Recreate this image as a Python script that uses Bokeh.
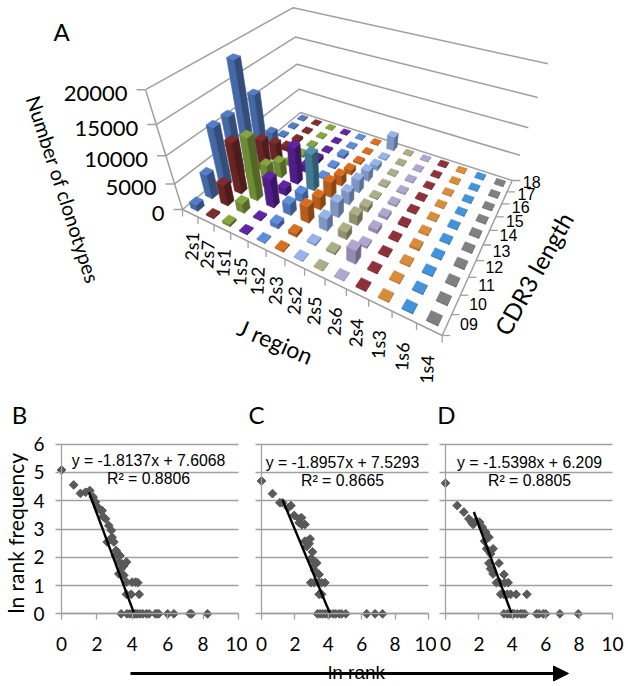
from bokeh.plotting import figure
from bokeh.layouts import column, row
from bokeh.models import Range1d, Label, FixedTicker, Arrow, NormalHead
from bokeh.core.properties import value
from bokeh.embed import file_html
from bokeh.resources import INLINE
import numpy as np

# ---------- data ----------
J_REGIONS = ["2s1","2s7","1s1","1s5","1s2","2s3","2s2","2s5","2s6","2s4","1s3","1s6","1s4"]
CDR3 = ["09","10","11","12","13","14","15","16","17","18"]
Z_TICKS = [0, 5000, 10000, 15000, 20000]
COUNT_2s1 = [1200, 4600, 11000, 11000, 18500, 11500, 2800, 300, 300, 200]
COUNT_2s7 = [300, 4000, 9500, 3000, 6000, 3500, 1000, 500, 300, 150]
COUNT_1s1 = [500, 1900, 11500, 4500, 3000, 1200, 500, 300, 200, 150]
COUNT_1s5 = [200, 300, 5500, 1500, 7000, 1500, 800, 300, 200, 150]
COUNT_1s2 = [200, 1000, 2200, 1800, 7000, 400, 400, 700, 300, 150]
COUNT_2s3 = [300, 700, 3200, 2500, 3000, 2000, 1000, 400, 200, 200]
COUNT_2s2 = [200, 400, 2500, 3000, 2500, 2500, 2000, 1000, 300, 2800]
COUNT_2s5 = [150, 500, 1500, 2000, 1000, 300, 300, 200, 200, 150]
COUNT_2s6 = [200, 2800, 400, 800, 600, 400, 300, 250, 200, 150]
COUNT_2s4 = [300, 300, 300, 300, 400, 300, 250, 200, 200, 200]
COUNT_1s3 = [300, 300, 300, 500, 300, 250, 200, 200, 200, 150]
COUNT_1s6 = [300, 300, 300, 300, 300, 250, 200, 200, 200, 150]
COUNT_1s4 = [300, 300, 300, 300, 250, 250, 200, 200, 200, 150]
COUNTS = [COUNT_2s1, COUNT_2s7, COUNT_1s1, COUNT_1s5, COUNT_1s2, COUNT_2s3, COUNT_2s2,
          COUNT_2s5, COUNT_2s6, COUNT_2s4, COUNT_1s3, COUNT_1s6, COUNT_1s4]
COLORS = ["#4f77bd","#7a2a2a","#7f9e3c","#5c229c","#5a86d2","#d0691f","#8facdf",
          "#a3a680","#a89fc6","#8a2f38","#cf8638","#3f8ccf","#7a7a7a"]
TEAL = "#4a8aa8"

B_X = [0,.69,1.07,1.36,1.6,1.79,1.92,2.05,2.17,2.3,2.35,2.49,2.67,2.82,2.86,2.58,2.96,2.77,3.09,3.18,3.3,3.05,3.24,3.43,3.67,3.37,3.52,3.24,3.52,3.67,3.99,4.18,4.31,3.67,3.94,4.39,
       3.37,3.7,3.85,4.0,4.1,4.2,4.3,4.45,4.6,4.8,4.95,5.3,5.4,5.5,6.0,6.35,7.25,7.35,8.25]
B_Y = [5.09,4.56,4.26,4.3,4.36,4.13,3.95,3.77,3.68,3.65,3.44,3.36,3.12,2.95,2.71,2.54,2.54,2.65,2.24,2.12,2.06,2.06,1.83,1.77,1.83,1.59,1.7,1.41,1.36,1.12,1.12,1.12,1.1,.69,.69,.69]+[0]*19
B_TREND_X = [1.55, 4.08]
B_TREND_Y = [4.3, 0.05]
C_X = [0,.66,1.1,1.26,1.76,1.6,1.96,2.25,2.4,2.25,2.42,2.6,2.91,2.8,2.6,2.85,2.71,3.05,2.95,3.11,3.31,3.15,3.19,3.45,2.95,3.15,3.4,3.6,3.8,3.45,3.6,
       3.35,3.5,3.65,3.8,3.95,4.1,4.3,4.45,4.65,4.8,5.05,6.3,6.8,7.25]
C_Y = [4.7,4.25,3.93,3.93,3.83,3.75,3.48,3.36,3.4,3.22,3.15,3.16,2.65,2.59,2.57,2.48,2.38,2.19,1.95,1.89,1.8,1.71,1.53,1.39,1.1,1.1,1.1,1.1,1.1,.69,.69]+[0]*14
C_TREND_X = [1.26, 4.11]
C_TREND_Y = [4.03, 0.0]
D_X = [0,.7,1.1,1.4,1.56,1.66,1.84,2.04,2.2,2.4,2.6,2.34,2.46,2.85,2.7,2.6,3.2,2.7,2.85,3.5,3.05,3.25,3.55,3.75,3.3,3.5,3.7,3.9,4.23,4.87,
       3.5,3.7,3.85,4.0,4.1,4.3,4.5,4.6,4.75,5.45,5.6,5.85,6.0,6.85,7.95]
D_Y = [4.62,3.83,3.6,3.36,3.24,3.16,3.28,3.24,3.07,2.89,2.71,2.57,2.3,2.3,2.12,1.79,1.79,1.59,1.41,1.39,1.1,1.1,1.1,1.1,.69,.69,.69,.69,.69,.69]+[0]*15
D_TREND_X = [1.7, 3.95]
D_TREND_Y = [3.6, 0.02]
X_TICKS = [0,2,4,6,8,10]
Y_TICKS = [0,1,2,3,4,5,6]

GRAY = "#a0a0a0"
CAL = "Lato"
W = 628

# ---------- oblique 3D scale for panel A (page pixel frame) ----------
FL, FR, BR, BL = map(np.array, [(182.,209.), (441.7,335.), (511.7,180.), (300.,112.)])
VP = np.array((342.7,730.))
A_COEF = (0.187, 0.217, 0.175, 0.145)

def _homography():
    d1 = FR - BR; d2 = BL - BR; s = FL - FR + BR - BL
    den = d1[0]*d2[1] - d2[0]*d1[1]
    g = (s[0]*d2[1] - d2[0]*s[1]) / den
    h = (d1[0]*s[1] - s[0]*d1[1]) / den
    return np.array([[FR[0]-FL[0]+g*FR[0], BL[0]-FL[0]+h*BL[0], FL[0]],
                     [FR[1]-FL[1]+g*FR[1], BL[1]-FL[1]+h*BL[1], FL[1]],
                     [g, h, 1.0]])
HOM = _homography()

def proj(j, c, z=0.0):
    u = j/len(J_REGIONS); v = c/len(CDR3)
    q = HOM @ np.array((u, v, 1.0))
    p = q[:2]/q[2]
    a = (A_COEF[0]*(1-u)*(1-v) + A_COEF[1]*u*(1-v) + A_COEF[2]*u*v + A_COEF[3]*(1-u)*v)
    k = 1.0/(1.0 - a*z/Z_TICKS[-1])
    return VP + (p-VP)*k

def shade(hexc, f):
    r, g, b = [int(hexc[i:i+2], 16) for i in (1,3,5)]
    return "#%02x%02x%02x" % tuple(int(min(255, x*f)) for x in (r,g,b))

top = figure(width=W, height=395, x_range=Range1d(0,628), y_range=Range1d(395,0),
             toolbar_location=None, output_backend="svg", min_border=0, outline_line_color=None)
top.axis.visible = False
top.grid.visible = False

nj, nc = len(J_REGIONS), len(CDR3)
# walls
for z in Z_TICKS:
    pts = [proj(0,0,z), proj(0,nc,z), proj(nj,nc,z)]
    top.line([a[0] for a in pts], [a[1] for a in pts], line_color=GRAY, line_width=1.5)
    t = proj(0,0,z)
    top.line([t[0]-9, t[0]], [t[1], t[1]], line_color=GRAY, line_width=1.5)
# vertical axis + floor front edges
a, b = proj(0,0,0), proj(0,0,Z_TICKS[-1])
top.line([a[0],b[0]], [a[1],b[1]], line_color=GRAY, line_width=1.5)
pts = [proj(0,0), proj(nj,0), proj(nj,nc)]
top.line([a[0] for a in pts], [a[1] for a in pts], line_color=GRAY, line_width=1.5)
for j in range(nj+1):
    t = proj(j,0)
    top.line([t[0],t[0]], [t[1],t[1]+7], line_color=GRAY, line_width=1.3)
for c in range(nc+1):
    t = proj(nj,c)
    top.line([t[0],t[0]+8], [t[1],t[1]], line_color=GRAY, line_width=1.3)

# bars, far ones first
order = sorted(((j,c) for j in range(nj) for c in range(nc)), key=lambda jc: proj(jc[0]+.5, jc[1]+.5)[1])
xs, ys, cols = [], [], []
HALF = 0.22
for j, c in order:
    z = COUNTS[j][c]
    base = COLORS[j]
    if J_REGIONS[j] == "1s2" and CDR3[c] == "13":
        base = TEAL
    u0, u1, v0, v1 = j+.5-HALF, j+.5+HALF, c+.5-HALF, c+.5+HALF
    ring = [(u0,v0),(u1,v0),(u1,v1),(u0,v1)]
    low = [proj(u,v,0) for u,v in ring]
    high = [proj(u,v,z) for u,v in ring]
    fs = [0.88, 0.66, 0.6, 0.95]
    for e in range(4):
        n = (e+1) % 4
        quad = [low[e], low[n], high[n], high[e]]
        area = sum(quad[i][0]*quad[(i+1)%4][1]-quad[(i+1)%4][0]*quad[i][1] for i in range(4))
        if area < 0:
            xs.append([q[0] for q in quad]); ys.append([q[1] for q in quad]); cols.append(shade(base, fs[e]))
    xs.append([q[0] for q in high]); ys.append([q[1] for q in high]); cols.append(shade(base, 1.05))
top.patches(xs, ys, fill_color=cols, line_color=cols, line_width=0.6)

def ttext(x, y, s, size, font=CAL, angle=0, align="center", base="middle"):
    top.text([x], [y], text=[s], text_font=value(font), text_font_size=f"{size}px", text_color="#000000",
             angle=angle, angle_units="deg", text_align=align, text_baseline=base)

for z in Z_TICKS:
    t = proj(0,0,z)
    ttext(t[0]-18, t[1]+4, str(z), 22, align="right")
for j, lab in enumerate(J_REGIONS):
    t = proj(j+.5, 0)
    ttext(t[0]+1.5-j*0.35, t[1]+33+j*0.6, lab, 18, angle=87)
for c, lab in enumerate(CDR3):
    t = proj(nj, c+.5)
    ttext(t[0]+22, t[1]-0.5-c*0.4, lab, 16, font="Liberation Sans")
ttext(61, 31, "A", 24)
ttext(63, 189, "Number of clonotypes", 20, angle=-72)
ttext(275, 341, "J region", 23, angle=-23)
ttext(533, 273, "CDR3 length", 24, angle=61)

# ---------- panels B, C, D ----------
def panel(x0_page, x1_page, fig_l, fig_r, X, Y, TX, TY, letter, letter_x, eq1, eq2, eq_x, eq_y, left_labels):
    sx = (x1_page - x0_page)/10.0
    sy = (613.3 - 443.7)/6.0
    xr = Range1d((fig_l-x0_page)/sx, (fig_r-x0_page)/sx)
    yr = Range1d((613.3-658)/sy, (613.3-395)/sy)
    p = figure(width=fig_r-fig_l, height=263, x_range=xr, y_range=yr, toolbar_location=None,
               output_backend="svg", min_border=0, outline_line_color=None)
    p.xgrid.visible = False
    p.ygrid.ticker = FixedTicker(ticks=Y_TICKS)
    p.ygrid.bounds = (0, 6)
    p.ygrid.cross_bounds = (0, 10)
    p.ygrid.grid_line_color = GRAY
    p.ygrid.grid_line_width = 1.3
    p.xaxis.ticker = FixedTicker(ticks=X_TICKS)
    p.yaxis.ticker = FixedTicker(ticks=Y_TICKS)
    p.xaxis.fixed_location = 0
    p.yaxis.fixed_location = 0
    p.xaxis.bounds = (0, 10)
    p.yaxis.bounds = (0, 6)
    for ax in (p.xaxis, p.yaxis):
        ax.axis_line_color = GRAY
        ax.axis_line_width = 1.3
        ax.major_tick_line_color = GRAY
        ax.major_tick_line_width = 1.3
        ax.major_tick_out = 6
        ax.major_tick_in = 0
        ax.minor_tick_line_color = None
        ax.major_label_text_font = CAL
        ax.major_label_text_font_size = "19px"
        ax.major_label_text_color = "#000000"
    p.xaxis.major_label_standoff = 17
    p.yaxis.major_label_standoff = 11
    if not left_labels:
        p.yaxis.major_label_overrides = {t: "" for t in Y_TICKS}
    p.scatter(X, Y, marker="square", angle=np.pi/4, size=6.2, fill_color="#595959", line_color="#595959")
    p.line(TX, TY, line_color="#000000", line_width=2.4)
    def lab(px, py, s, size, font):
        p.add_layout(Label(x=(px-x0_page)/sx, y=(613.3-py)/sy, text=s, text_font=font, text_font_size=f"{size}px",
                           text_color="#000000", text_align="center", text_baseline="middle"))
    lab(letter_x, 414, letter, 24, CAL)
    lab(eq_x, eq_y, eq1, 15.8, "Liberation Sans")
    lab(eq_x, eq_y+18, eq2, 15.8, "Liberation Sans")
    return p

pb = panel(61, 238, 0, 247, B_X, B_Y, B_TREND_X, B_TREND_Y, "B", 19, "y = -1.8137x + 7.6068", "R² = 0.8806", 148, 460, True)
pc = panel(261, 428, 247, 436, C_X, C_Y, C_TREND_X, C_TREND_Y, "C", 256, "y = -1.8957x + 7.5293", "R² = 0.8665", 342, 462, False)
pd = panel(445, 612, 436, 628, D_X, D_Y, D_TREND_X, D_TREND_Y, "D", 446, "y = -1.5398x + 6.209", "R² = 0.8805", 529, 462, False)
pb.add_layout(Label(x=(15-61)/17.7, y=2.85, text="ln rank frequency", text_font=CAL, text_font_size="21px", angle=90,
                    angle_units="deg", text_color="#000000", text_align="center", text_baseline="middle"))

# ---------- shared bottom arrow ----------
strip = figure(width=W, height=28, x_range=Range1d(0,628), y_range=Range1d(686,658), toolbar_location=None,
               output_backend="svg", min_border=0, outline_line_color=None)
strip.axis.visible = False
strip.grid.visible = False
strip.add_layout(Arrow(end=NormalHead(size=15, fill_color="#000000", line_color="#000000"),
                       x_start=130, y_start=673, x_end=568, y_end=673, line_color="#000000", line_width=3))
strip.text([356], [672], text=["ln rank"], text_font=value("Liberation Sans"), text_font_size="19px",
           text_align="center", text_baseline="middle", text_color="#000000")

page = column(top, row(pb, pc, pd, spacing=0), strip, spacing=0)
open("out.html", "w").write(file_html(page, INLINE))
